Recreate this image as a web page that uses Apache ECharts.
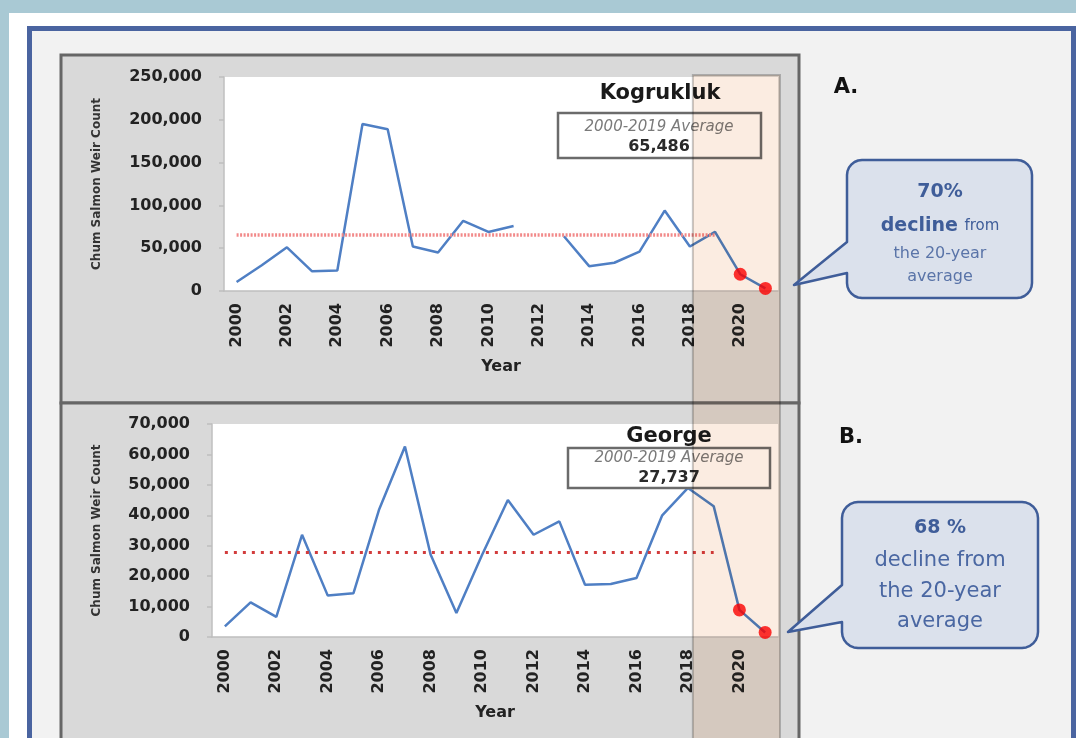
<!DOCTYPE html>
<html>
<head>
<meta charset="utf-8">
<script src="https://cdn.jsdelivr.net/npm/echarts@6/dist/echarts.min.js"></script>
<style>
html, body { margin: 0; padding: 0; background: #a9c9d4; }
#main { width: 1076px; height: 738px; }
</style>
</head>
<body>
<div id="main"></div>
<script>
// data
var years = ['2000', '2001', '2002', '2003', '2004', '2005', '2006', '2007', '2008', '2009', '2010',
             '2011', '2012', '2013', '2014', '2015', '2016', '2017', '2018', '2019', '2020', '2021'];
var kogCounts = [10500, 30000, 51000, 23000, 24000, 195000, 189000, 52000, 45000, 82000, 69000,
                 76000, null, 64000, 29000, 33000, 46000, 94000, 52000, 69000, 19600, 3000];
var georgeCounts = [3500, 11400, 6600, 33600, 13600, 14400, 42000, 62600, 27000, 7900, 27000,
                    45000, 33600, 38000, 17200, 17400, 19400, 40000, 49000, 43000, 8900, 1500];
var kogAverage = 65486;
var georgeAverage = 27737;
var averageYears = ['2000', '2019'];
var recentYears = ['2020', '2021'];
var shadeFrom = '2018';
var kogTicks = [0, 50000, 100000, 150000, 200000, 250000];
var georgeTicks = [0, 10000, 20000, 30000, 40000, 50000, 60000, 70000];

var FONT = 'DejaVu Sans';
var fmt = function (v) { return Number(v).toLocaleString('en-US'); };

function recentDots(counts) {
    return recentYears.map(function (y) { return [y, counts[years.indexOf(y)]]; });
}

function xAxisFor(idx) {
    return {
        type: 'category', gridIndex: idx, data: years,
        name: 'Year', nameLocation: 'middle', nameGap: 68,
        nameTextStyle: { fontFamily: FONT, fontWeight: 'bold', fontSize: 16, color: '#222' },
        axisLine: { lineStyle: { color: '#bfbfbf', width: 1.5 } },
        axisTick: { interval: 0, length: 5, lineStyle: { color: '#bfbfbf', width: 1.5 } },
        axisLabel: { interval: 1, rotate: 90, margin: 12, fontFamily: FONT, fontWeight: 'bold',
                     fontSize: 16, color: '#222' }
    };
}

function yAxisFor(idx, ticks, gap) {
    return {
        type: 'value', gridIndex: idx,
        min: ticks[0], max: ticks[ticks.length - 1], interval: ticks[1] - ticks[0],
        name: 'Chum Salmon Weir Count', nameLocation: 'middle', nameGap: gap,
        nameTextStyle: { fontFamily: FONT, fontWeight: 'bold', fontSize: 12, color: '#333' },
        splitLine: { show: false },
        axisLine: { show: true, lineStyle: { color: '#bfbfbf', width: 1.5 } },
        axisTick: { show: true, length: 5, lineStyle: { color: '#bfbfbf', width: 1.5 } },
        axisLabel: { margin: 22, fontFamily: FONT, fontWeight: 'bold', fontSize: 16, color: '#222',
                     formatter: fmt }
    };
}

function seriesFor(idx, counts, avg, avgColor, avgWidth, avgDash) {
    return [{
        type: 'line', xAxisIndex: idx, yAxisIndex: idx, data: counts,
        showSymbol: false, connectNulls: false,
        lineStyle: { color: '#4f7fc4', width: 2.5 },
        markLine: {
            silent: true, symbol: 'none', label: { show: false },
            lineStyle: { color: avgColor, width: avgWidth, type: avgDash },
            data: [[{ coord: [averageYears[0], avg] }, { coord: [averageYears[1], avg] }]]
        }
    }, {
        type: 'scatter', xAxisIndex: idx, yAxisIndex: idx, data: recentDots(counts),
        symbolSize: 13, itemStyle: { color: '#ff0000' }, z: 3
    }];
}

function text(id, x, y, str, size, weight, color, extra) {
    var s = { text: str, x: x, y: y, fill: color, textAlign: 'center', textVerticalAlign: 'middle',
              font: (extra && extra.italic ? 'italic ' : '') + weight + ' ' + size + 'px "' + FONT + '"' };
    if (extra && extra.rich) s.rich = extra.rich;
    return { type: 'text', id: id, z: 20, style: s };
}

// speech bubble outline: rounded box with a tail cut into its left side
function callout(id, x0, y0, w, h, r, tailTop, tailBottom, tip) {
    var x1 = x0 + w, y1 = y0 + h, pts = [];
    function arc(cx, cy, a0, a1) {
        for (var i = 0; i <= 6; i++) {
            var a = a0 + (a1 - a0) * i / 6;
            pts.push([cx + r * Math.cos(a), cy + r * Math.sin(a)]);
        }
    }
    arc(x0 + r, y0 + r, Math.PI, 1.5 * Math.PI);
    arc(x1 - r, y0 + r, 1.5 * Math.PI, 2 * Math.PI);
    arc(x1 - r, y1 - r, 0, 0.5 * Math.PI);
    arc(x0 + r, y1 - r, 0.5 * Math.PI, Math.PI);
    pts.push([x0, tailBottom], tip, [x0, tailTop]);
    return { type: 'polygon', id: id, z: 18, shape: { points: pts },
             style: { fill: '#dbe1ec', stroke: '#3f5d99', lineWidth: 2.5, lineJoin: 'round' } };
}

var blueText = '#3f5d99';
var lightBlue = '#5a74a8';

var graphics = [
    { type: 'rect', id: 'white', z: -10, shape: { x: 9, y: 13, width: 1080, height: 740 }, style: { fill: '#ffffff' } },
    { type: 'rect', id: 'frame', z: -9, shape: { x: 29.5, y: 28.5, width: 1044, height: 730 },
      style: { fill: '#f2f2f2', stroke: '#4a64a0', lineWidth: 5 } },
    { type: 'rect', id: 'panelA', z: -8, shape: { x: 61, y: 55, width: 738, height: 348 },
      style: { fill: '#d9d9d9', stroke: '#666666', lineWidth: 3 } },
    { type: 'rect', id: 'panelB', z: -8, shape: { x: 61, y: 403, width: 738, height: 360 },
      style: { fill: '#d9d9d9', stroke: '#666666', lineWidth: 3 } },
    text('titleA', 660, 94, 'Kogrukluk', 21, 'bold', '#1a1a1a'),
    { type: 'rect', id: 'boxA', z: 15, shape: { x: 558, y: 113, width: 203, height: 45 },
      style: { fill: '#ffffff', stroke: '#6b6b6b', lineWidth: 2.5 } },
    text('boxA1', 659, 127, '2000-2019 Average', 15, 'normal', '#7a7a7a', { italic: true }),
    text('boxA2', 659, 147, fmt(kogAverage), 16, 'bold', '#2a2a2a'),
    { type: 'rect', id: 'boxB', z: 15, shape: { x: 568, y: 448, width: 202, height: 40 },
      style: { fill: '#ffffff', stroke: '#6b6b6b', lineWidth: 2.5 } },
    text('boxB1', 669, 458, '2000-2019 Average', 15, 'normal', '#7a7a7a', { italic: true }),
    text('boxB2', 669, 478, fmt(georgeAverage), 16, 'bold', '#2a2a2a'),
    text('titleB', 669, 437, 'George', 21, 'bold', '#1a1a1a'),
    text('labA', 846, 88, 'A.', 21, 'bold', '#111'),
    text('labB', 851, 438, 'B.', 21, 'bold', '#111'),
    callout('calA', 847, 160, 185, 138, 15, 242, 273, [794, 285]),
    text('calA1', 940, 192, '70%', 19, 'bold', blueText),
    text('calA2', 940, 226, '{a|decline} {b|from}', 19, 'bold', blueText, {
        rich: { a: { fontFamily: FONT, fontWeight: 'bold', fontSize: 19, color: blueText },
                b: { fontFamily: FONT, fontSize: 15, color: lightBlue } } }),
    text('calA3', 940, 254, 'the 20-year', 16, 'normal', lightBlue),
    text('calA4', 940, 277, 'average', 16, 'normal', lightBlue),
    callout('calB', 842, 502, 196, 146, 16, 585, 622, [788, 632]),
    text('calB1', 940, 528, '68 %', 19, 'bold', blueText),
    text('calB2', 940, 561, 'decline from', 21, 'normal', '#4a67a2'),
    text('calB3', 940, 592, 'the 20-year', 21, 'normal', '#4a67a2'),
    text('calB4', 940, 622, 'average', 21, 'normal', '#4a67a2')
];

var chart = echarts.init(document.getElementById('main'));
chart.setOption({
    backgroundColor: '#a9c9d4',
    animation: false,
    grid: [
        { left: 224, right: 298, top: 77, bottom: 447, show: true, backgroundColor: '#ffffff', borderWidth: 0 },
        { left: 212, right: 298, top: 424, bottom: 101, show: true, backgroundColor: '#ffffff', borderWidth: 0 }
    ],
    xAxis: [xAxisFor(0), xAxisFor(1)],
    yAxis: [yAxisFor(0, kogTicks, 121), yAxisFor(1, georgeTicks, 109)],
    series: seriesFor(0, kogCounts, kogAverage, '#f28a8a', 3.5, [2, 1.5])
        .concat(seriesFor(1, georgeCounts, georgeAverage, '#d23c3c', 3, [3, 6])),
    graphic: { elements: graphics }
});

// shaded 2018+ band spanning both panels
var shadeX = chart.convertToPixel({ xAxisIndex: 0 }, shadeFrom) + 3;
var shadeRight = 1076 - 298 + 2;
chart.setOption({
    graphic: { elements: [{
        type: 'rect', id: 'shade', z: 100,
        shape: { x: shadeX, y: 75, width: shadeRight - shadeX, height: 680 },
        style: { fill: '#fbece1', stroke: '#c8c8c8', lineWidth: 2, blend: 'multiply' }
    }] }
});
</script>
</body>
</html>
